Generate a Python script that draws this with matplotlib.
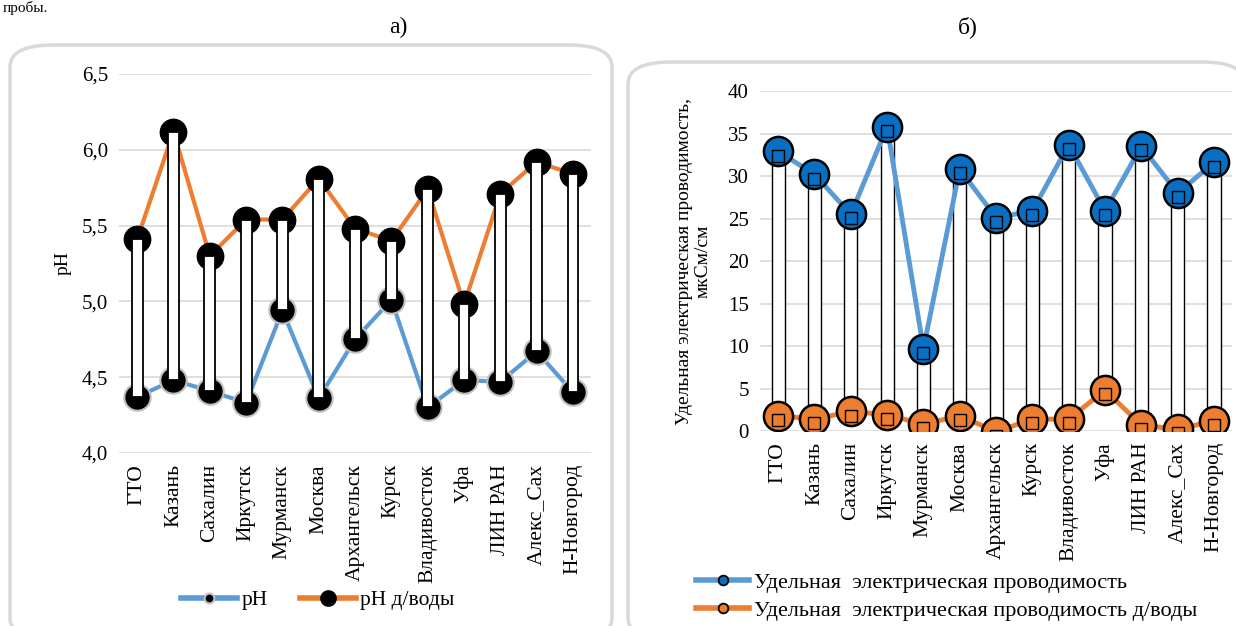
import matplotlib.pyplot as plt
from matplotlib.lines import Line2D
from matplotlib.patches import FancyBboxPatch
import matplotlib.transforms as mtransforms

plt.rcParams['font.family'] = ['Liberation Serif', 'DejaVu Serif']

cities = ['ГТО', 'Казань', 'Сахалин', 'Иркутск', 'Мурманск', 'Москва', 'Архангельск',
          'Курск', 'Владивосток', 'Уфа', 'ЛИН РАН', 'Алекс_Сах', 'Н-Новгород']
ph = [4.37, 4.48, 4.41, 4.33, 4.94, 4.36, 4.75, 5.01, 4.30, 4.48, 4.47, 4.67, 4.40]
ph_dw = [5.41, 6.12, 5.30, 5.54, 5.54, 5.81, 5.48, 5.40, 5.74, 4.98, 5.71, 5.92, 5.84]
cond = [32.9, 30.2, 25.5, 35.8, 9.7, 30.8, 25.1, 25.9, 33.7, 25.9, 33.5, 28.0, 31.6]
cond_dw = [1.8, 1.4, 2.3, 1.9, 0.8, 1.8, -0.1, 1.4, 1.4, 4.8, 0.7, 0.2, 1.2]

blue_line = '#5b9bd5'
orange = '#ed7d31'
blue_fill = '#0a6fc2'
x = list(range(len(cities)))

fig = plt.figure(figsize=(12.36, 6.26), dpi=100)

# rounded panel frames
for (x0, y0, x1, y1) in [(10, 45, 612, 640), (628, 62, 1245, 640)]:
    box = FancyBboxPatch((x0 / 1236, 1 - y1 / 626), (x1 - x0) / 1236, (y1 - y0) / 626,
                         boxstyle='round,pad=0,rounding_size=0.035', transform=fig.transFigure,
                         facecolor='white', edgecolor='#d9d9d9', lw=2.5, zorder=-5)
    fig.patches.append(box)

fig.text(0.002, 0.999, 'пробы.', fontsize=11, va='top', ha='left')
fig.text(398 / 1236, 1 - 27 / 626, 'а)', fontsize=17, ha='center', va='center')
fig.text(968 / 1236, 1 - 27 / 626, 'б)', fontsize=17, ha='center', va='center')

# ---- a) pH
ax1 = fig.add_axes([119 / 1236, 0.2764, 0.382, 0.6054])
ax1.plot(x, ph, color=blue_line, lw=3, marker='o', ms=19, mfc='black', mec='#bfbfbf', mew=1.5, zorder=2)
ax1.plot(x, ph_dw, color=orange, lw=3, marker='o', ms=19, mfc='black', mec='black', zorder=2)
ax1.bar(x, [h - l for h, l in zip(ph_dw, ph)], bottom=ph, width=0.3, color='white',
        edgecolor='black', lw=1.3, zorder=3)
ax1.set_ylim(4.0, 6.5)
ax1.set_yticks([4.0, 4.5, 5.0, 5.5, 6.0, 6.5])
ax1.set_yticklabels([f'{v:.1f}'.replace('.', ',') for v in [4.0, 4.5, 5.0, 5.5, 6.0, 6.5]], fontsize=15)
ax1.set_ylabel('pH', fontsize=14, labelpad=7)

# ---- б) conductivity
ax2 = fig.add_axes([760 / 1236, 0.3115, 0.382, 0.543])
ax2.plot(x, cond, color=blue_line, lw=3.5, marker='o', ms=21, mfc=blue_fill, mec='black', mew=1.8, zorder=3)
ax2.plot(x, cond_dw, color=orange, lw=3.5, marker='o', ms=21, mfc=orange, mec='black', mew=1.8, zorder=3)
ax2.bar(x, [h - l for h, l in zip(cond, cond_dw)], bottom=cond_dw, width=0.36, color='white',
        edgecolor='black', lw=1.0, zorder=2)
shift = mtransforms.offset_copy(ax2.transData, fig=fig, x=0, y=-3, units='points')
ax2.plot(x, cond, ls='none', marker='s', ms=9, mfc='none', mec='black', mew=1.0, zorder=4, transform=shift)
ax2.plot(x, cond_dw, ls='none', marker='s', ms=9, mfc='none', mec='black', mew=1.0, zorder=4, transform=shift)
ax2.set_ylim(0, 40)
ax2.set_yticks(range(0, 41, 5))
ax2.tick_params(axis='y', labelsize=15)
ax2.set_ylabel('Удельная электрическая проводимость,\nмкСм/см', fontsize=14, labelpad=12, linespacing=1.1)

for ax in (ax1, ax2):
    ax.set_xlim(-0.5, len(cities) - 0.5)
    ax.set_xticks(x)
    ax.set_xticklabels(cities, rotation=90, fontsize=15.5)
    ax.tick_params(length=0, pad=8)
    ax.grid(axis='y', color='#d9d9d9', lw=1.2)
    ax.set_axisbelow(True)
    for s in ax.spines.values():
        s.set_visible(False)
    ax.set_facecolor('none')

# legends
h1 = [Line2D([], [], color=blue_line, lw=4, marker='o', ms=7, mfc='black', mec='#bfbfbf', mew=1.5),
      Line2D([], [], color=orange, lw=4, marker='o', ms=11, mfc='black', mec='black')]
fig.legend(h1, ['pH', 'pH д/воды'], loc='center', bbox_to_anchor=(318 / 1236, 1 - 600 / 626),
           ncol=2, frameon=False, fontsize=15.5, handlelength=2.6, columnspacing=1.5, handletextpad=0.2)
h2 = [Line2D([], [], color=blue_line, lw=4, marker='o', ms=7, mfc=blue_fill, mec='black', mew=1.3),
      Line2D([], [], color=orange, lw=4, marker='o', ms=7, mfc=orange, mec='black', mew=1.3)]
fig.legend(h2, ['Удельная  электрическая проводимость', 'Удельная  электрическая проводимость д/воды'],
           loc='upper left', bbox_to_anchor=(676 / 1236, 1 - 552 / 626), frameon=False, fontsize=16,
           handlelength=2.4, handletextpad=0.2, labelspacing=0.35)

fig.savefig('out.png', dpi=100)
